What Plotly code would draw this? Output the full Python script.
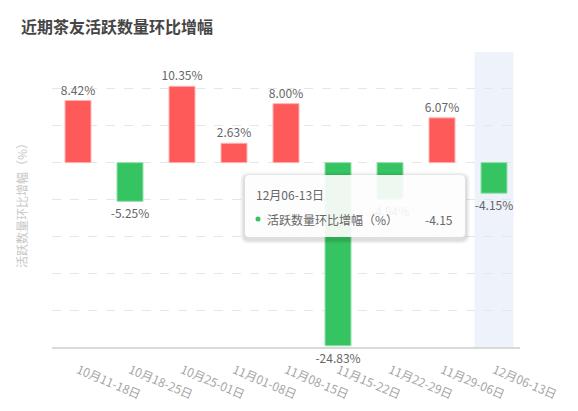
import plotly.graph_objects as go

categories = ["10月11-18日", "10月18-25日", "10月25-01日", "11月01-08日", "11月08-15日",
              "11月15-22日", "11月22-29日", "11月29-06日", "12月06-13日"]
values = [8.42, -5.25, 10.35, 2.63, 8.00, -24.83, -4.94, 6.07, -4.15]
series_name = "活跃数量环比增幅（%）"
title_text = "近期茶友活跃数量环比增幅"
hover_index = 8

RED = "#FF5A5A"
RED_EDGE = "#FFB3B3"
GREEN = "#36C462"
GREEN_EDGE = "#93E0AB"
FONT = "Noto Sans CJK SC"

# page has an 8px body margin; work in page pixels and convert
OFF = 8
W, H = 578 - 2 * OFF, 411 - 2 * OFF
PL, PR, PT, PB = 52, 520, 52, 347  # plot area in page pixels
L, T = PL - OFF, PT - OFF
R = W - (PR - OFF)
B = H - (PB - OFF)
pw, ph = W - L - R, H - T - B


def px(x):
    return (x - PL) / pw


def py(y):
    return (PB - y) / ph


colors = [RED if v >= 0 else GREEN for v in values]
edges = [RED_EDGE if v >= 0 else GREEN_EDGE for v in values]
labels = [f"{v:.2f}%" for v in values]

fig = go.Figure()
fig.add_trace(go.Bar(
    x=categories, y=values, width=0.5,
    marker=dict(color=colors, line=dict(color=edges, width=1)),
    text=labels, textposition="outside", cliponaxis=False, constraintext="none",
    textfont=dict(family=FONT, size=12, color="#666666"),
    name=series_name, hoverinfo="skip",
))

shapes = []
shapes.append(dict(type="rect", xref="x", yref="paper", x0=hover_index - 0.375, x1=hover_index + 0.375,
                   y0=0, y1=1, fillcolor="#EEF2FA", line=dict(width=0), layer="below"))


def rrect(x0, y0, x1, y1, r):
    X0, X1 = px(x0), px(x1)
    Y0, Y1 = py(y0), py(y1)
    rx, ry = r / pw, r / ph
    return (f"M {X0+rx} {Y0} L {X1-rx} {Y0} Q {X1} {Y0} {X1} {Y0-ry} "
            f"L {X1} {Y1+ry} Q {X1} {Y1} {X1-rx} {Y1} L {X0+rx} {Y1} Q {X0} {Y1} {X0} {Y1+ry} "
            f"L {X0} {Y0-ry} Q {X0} {Y0} {X0+rx} {Y0} Z")


tx0, ty0, tx1, ty1 = 245, 175, 465, 237
for i, a in enumerate([0.025, 0.03, 0.035, 0.045]):
    d = 5 - i
    shapes.append(dict(type="path", xref="paper", yref="paper",
                       path=rrect(tx0 - d, ty0 - d + 2, tx1 + d, ty1 + d + 2, 4 + d),
                       fillcolor=f"rgba(0,0,0,{a})", line=dict(width=0), layer="above"))
shapes.append(dict(type="path", xref="paper", yref="paper", path=rrect(tx0, ty0, tx1, ty1, 4),
                   fillcolor="rgba(255,255,255,0.92)", line=dict(width=0), layer="above"))
shapes.append(dict(type="circle", xref="paper", yref="paper",
                   x0=px(255.5), x1=px(260.5), y0=py(216.5), y1=py(221.5),
                   fillcolor=GREEN, line=dict(width=0), layer="above"))

annotations = [
    dict(text=f"<b>{title_text}</b>", xref="paper", yref="paper", x=px(19), y=py(26),
         xanchor="left", yanchor="middle", showarrow=False,
         font=dict(family=FONT, size=16, color="#464646")),
    dict(text=series_name, xref="paper", yref="paper", x=px(22), y=py(203), textangle=-90,
         xanchor="center", yanchor="middle", showarrow=False,
         font=dict(family=FONT, size=12, color="#C8C8C8")),
    dict(text=categories[hover_index], xref="paper", yref="paper", x=px(254), y=py(194),
         xanchor="left", yanchor="middle", showarrow=False,
         font=dict(family=FONT, size=12, color="#666666")),
    dict(text=series_name, xref="paper", yref="paper", x=px(265), y=py(219),
         xanchor="left", yanchor="middle", showarrow=False,
         font=dict(family=FONT, size=12, color="#666666")),
    dict(text=f"{values[hover_index]:g}", xref="paper", yref="paper", x=px(455), y=py(219),
         xanchor="right", yanchor="middle", showarrow=False,
         font=dict(family=FONT, size=12, color="#666666")),
]

fig.update_layout(
    width=W, height=H, margin=dict(l=L, r=R, t=T, b=B, autoexpand=False),
    paper_bgcolor="white", plot_bgcolor="white",
    showlegend=False, bargap=0.5,
    font=dict(family=FONT),
    shapes=shapes, annotations=annotations,
    xaxis=dict(type="category", tickangle=23, showgrid=False, showline=True, automargin=False,
               linecolor="#D9D9D9", linewidth=1.5, ticks="", zeroline=False, ticklabelstandoff=10,
               tickfont=dict(family=FONT, size=12, color="#A6A6A6")),
    yaxis=dict(range=[-25, 15], dtick=5, showticklabels=False, showgrid=True, automargin=False,
               gridcolor="#E6E6E6", griddash="dash", gridwidth=1, zeroline=False,
               showline=False, ticks=""),
)

fig.write_html("out.html")
